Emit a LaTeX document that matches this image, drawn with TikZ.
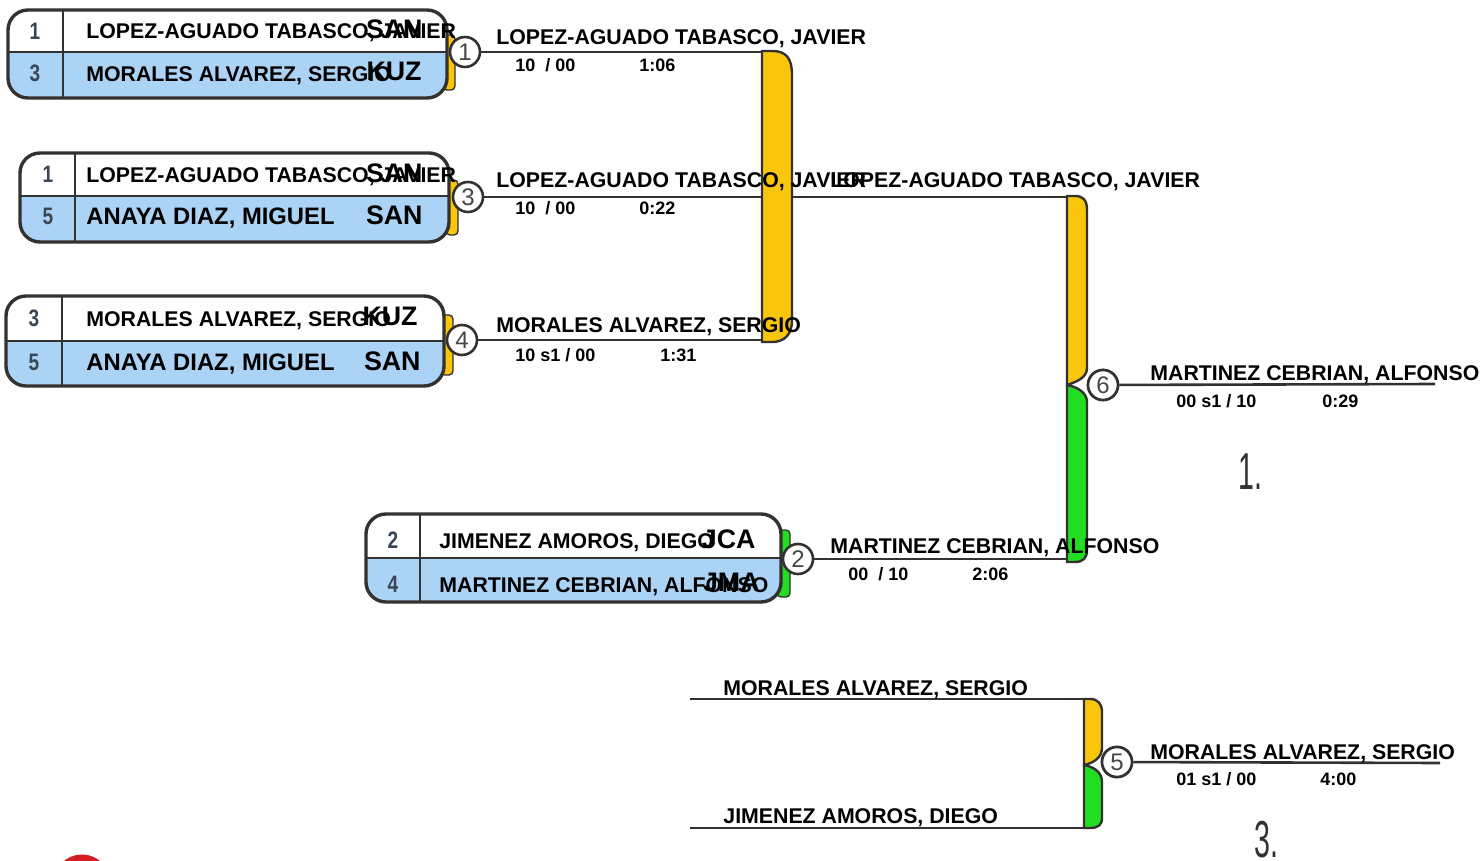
\documentclass[tikz,border=0pt]{standalone}
\usepackage{fontspec}
\setmainfont{Liberation Sans}
\definecolor{boxblue}{RGB}{170,211,246}
\definecolor{gold}{RGB}{250,198,12}
\definecolor{brgreen}{RGB}{34,222,34}
\definecolor{edge}{RGB}{52,50,48}
\definecolor{seedgray}{RGB}{58,70,84}
\definecolor{numgray}{RGB}{70,70,70}
\definecolor{medalred}{RGB}{212,30,34}
\tikzset{
  boxline/.style={draw=edge, line width=1.7pt},
  divline/.style={draw=edge, line width=1.4pt},
  wire/.style={draw=edge, line width=1.3pt},
  barline/.style={draw=edge, line width=1.2pt},
  tab/.style={draw=edge, line width=0.7pt, rounded corners=2pt},
  nm/.style={anchor=base west, inner sep=0pt, font=\bfseries\fontsize{10.65}{12}\selectfont},
  bignm/.style={anchor=base west, inner sep=0pt, font=\bfseries\fontsize{11.9}{13}\selectfont},
  code/.style={anchor=base east, inner sep=0pt, font=\bfseries\fontsize{13.4}{15}\selectfont},
  score/.style={anchor=base west, inner sep=0pt, font=\bfseries\fontsize{9}{10}\selectfont},
  seed/.style={anchor=base, inner sep=0pt, text=seedgray, font=\bfseries\fontsize{11.9}{13}\selectfont, xscale=0.8},
  circ/.style={circle, draw=edge, line width=1.3pt, fill=white, minimum size=15pt, inner sep=0pt, text=numgray, font=\fontsize{12}{12}\selectfont},
  place/.style={anchor=base west, inner sep=0pt, text=edge, font=\fontsize{26}{28}\selectfont, xscale=0.55}
}
\newcommand\seedbox[6]{%
  \begin{scope}
    \clip[rounded corners=10pt] (#1,#2) rectangle (#3,#4);
    \fill[boxblue] (#1,#2) rectangle (#3,#4);
    \fill[white] (#1,#2) rectangle (#3,#5);
  \end{scope}
  \draw[divline] (#1,#5) -- (#3,#5) (#6,#2) -- (#6,#4);
  \draw[boxline, rounded corners=10pt] (#1,#2) rectangle (#3,#4);
}
\begin{document}
\begin{tikzpicture}[x=0.5pt, y=-0.5pt]
\useasboundingbox (0,0) rectangle (1483,861);

% medal fragment
\begin{scope}
  \clip (0,0) rectangle (1483,861);
  \fill[medalred] (82,883) circle[radius=28.5];
\end{scope}

% tabs
\draw[tab, fill=gold] (443,35) rectangle (455,90);
\draw[tab, fill=gold] (446,180) rectangle (458,235);
\draw[tab, fill=gold] (441,315) rectangle (453,375);
\draw[tab, fill=brgreen] (777,530) rectangle (790,597);

% boxes
\seedbox{8}{10}{447}{98}{52}{63}
\seedbox{20}{153}{449}{242}{196}{75}
\seedbox{6}{296}{444}{386}{341}{62}
\seedbox{366}{514}{781}{602}{558}{420}

% circles (match numbers)
\node[circ] (c1) at (465,52) {1};
\node[circ] (c3) at (468,197) {3};
\node[circ] (c4) at (462,340) {4};
\node[circ] (c2) at (798,559) {2};
\node[circ] (c6) at (1103,385) {6};
\node[circ] (c5) at (1117,762) {5};

% connector end points
\coordinate (b1t) at (762,52);
\coordinate (b1m) at (762,197);
\coordinate (b1b) at (762,340);
\coordinate (b6t) at (1067,197);
\coordinate (b6b) at (1067,559);
\coordinate (e6) at (1435,384);
\coordinate (e5) at (1440,763);
\coordinate (f1) at (690,699);
\coordinate (f2) at (690,828);
\coordinate (b5t) at (1084,699);
\coordinate (b5b) at (1084,828);

% wires
\begin{scope}[on background layer/.style={}]
\draw[wire] (c1) -- (b1t);
\draw[wire] (c3) -- (b6t);
\draw[wire] (c4) -- (b1b);
\draw[wire] (c2) -- (b6b);
\draw[wire] (c6) -- (e6);
\draw[wire] (c5) -- (e5);
\draw[wire] (f1) -- (b5t);
\draw[wire] (f2) -- (b5b);
\end{scope}

% bars
\draw[barline, fill=gold] (762,51) -- (772,51) .. controls (786,51) and (792,58) .. (792,75)
  -- (792,320) .. controls (792,335) and (784,342) .. (772,342) -- (762,342) -- cycle;
\draw[barline, fill=gold] (1067,196) -- (1075,196) .. controls (1083,196) and (1087,200) .. (1087,210)
  -- (1087,368) .. controls (1087,378) and (1076,382) .. (1067,385) -- cycle;
\draw[barline, fill=brgreen] (1067,385) .. controls (1078,387) and (1087,393) .. (1087,402)
  -- (1087,550) .. controls (1087,558) and (1083,562) .. (1075,562) -- (1067,562) -- cycle;
\draw[barline, fill=gold] (1084,699) -- (1090,699) .. controls (1098,699) and (1102,704) .. (1102,712)
  -- (1102,748) .. controls (1102,758) and (1093,763) .. (1084,765) -- cycle;
\draw[barline, fill=brgreen] (1084,765) .. controls (1095,767) and (1102,773) .. (1102,782)
  -- (1102,818) .. controls (1102,825) and (1098,828) .. (1090,828) -- (1084,828) -- cycle;

% redraw circles on top of bars
\node[circ] at (c6) {6};
\node[circ] at (c5) {5};

% seeds
\node[seed] (s11) at (35,40) {1};
\node[seed] (s12) at (35,82) {3};
\node[seed] (s21) at (48,183) {1};
\node[seed] (s22) at (48,225) {5};
\node[seed] (s31) at (34,327) {3};
\node[seed] (s32) at (34,370) {5};
\node[seed] (s41) at (393,548) {2};
\node[seed] (s42) at (393,592) {4};

% box names
\node[nm] (n11) at (86,39) {LOPEZ-AGUADO TABASCO, JAVIER};
\node[code] (k11) at (423,39) {SAN};
\node[nm] (n12) at (86,82) {MORALES ALVAREZ, SERGIO};
\node[code] (k12) at (422,81) {KUZ};
\node[nm] (n21) at (86,183) {LOPEZ-AGUADO TABASCO, JAVIER};
\node[code] (k21) at (423,183) {SAN};
\node[bignm] (n22) at (86,225) {ANAYA DIAZ, MIGUEL};
\node[code] (k22) at (423,225) {SAN};
\node[nm] (n31) at (86,327) {MORALES ALVAREZ, SERGIO};
\node[code] (k31) at (418,326) {KUZ};
\node[bignm] (n32) at (86,370) {ANAYA DIAZ, MIGUEL};
\node[code] (k32) at (421,370) {SAN};
\node[nm] (n41) at (439,548) {JIMENEZ AMOROS, DIEGO};
\node[code] (k41) at (756,548) {JCA};
\node[nm] (n42) at (439,592) {MARTINEZ CEBRIAN, ALFONSO};
\node[code] (k42) at (760,591) {JMA};

% bracket labels
\node[nm] (t1) at (496,45) {LOPEZ-AGUADO TABASCO, JAVIER};
\node[score] (r1) at (515,72) {10\ \ / 00};
\node[score] (m1) at (639,72) {1:06};
\node[nm] (t3) at (496,188) {LOPEZ-AGUADO TABASCO, JAVIER};
\node[score] (r3) at (515,215) {10\ \ / 00};
\node[score] (m3) at (639,215) {0:22};
\node[nm] (t4) at (496,332) {MORALES ALVAREZ, SERGIO};
\node[score] (r4) at (515,361) {10 s1 / 00};
\node[score] (m4) at (660,361) {1:31};
\node[nm] (tw) at (830,188) {LOPEZ-AGUADO TABASCO, JAVIER};
\node[nm] (t2) at (830,553) {MARTINEZ CEBRIAN, ALFONSO};
\node[score] (r2) at (848,580) {00\ \ / 10};
\node[score] (m2) at (972,580) {2:06};
\node[nm] (t6) at (1150,380) {MARTINEZ CEBRIAN, ALFONSO};
\node[score] (r6) at (1176,407) {00 s1 / 10};
\node[score] (m6) at (1322,407) {0:29};
\node[nm] (tb1) at (723,695) {MORALES ALVAREZ, SERGIO};
\node[nm] (tb2) at (723,823) {JIMENEZ AMOROS, DIEGO};
\node[nm] (t5) at (1150,759) {MORALES ALVAREZ, SERGIO};
\node[score] (r5) at (1176,785) {01 s1 / 00};
\node[score] (m5) at (1320,785) {4:00};

% places
\node[place] (p1) at (1238,489) {1.};
\node[place] (p3) at (1254,857) {3.};
\end{tikzpicture}
\end{document}
